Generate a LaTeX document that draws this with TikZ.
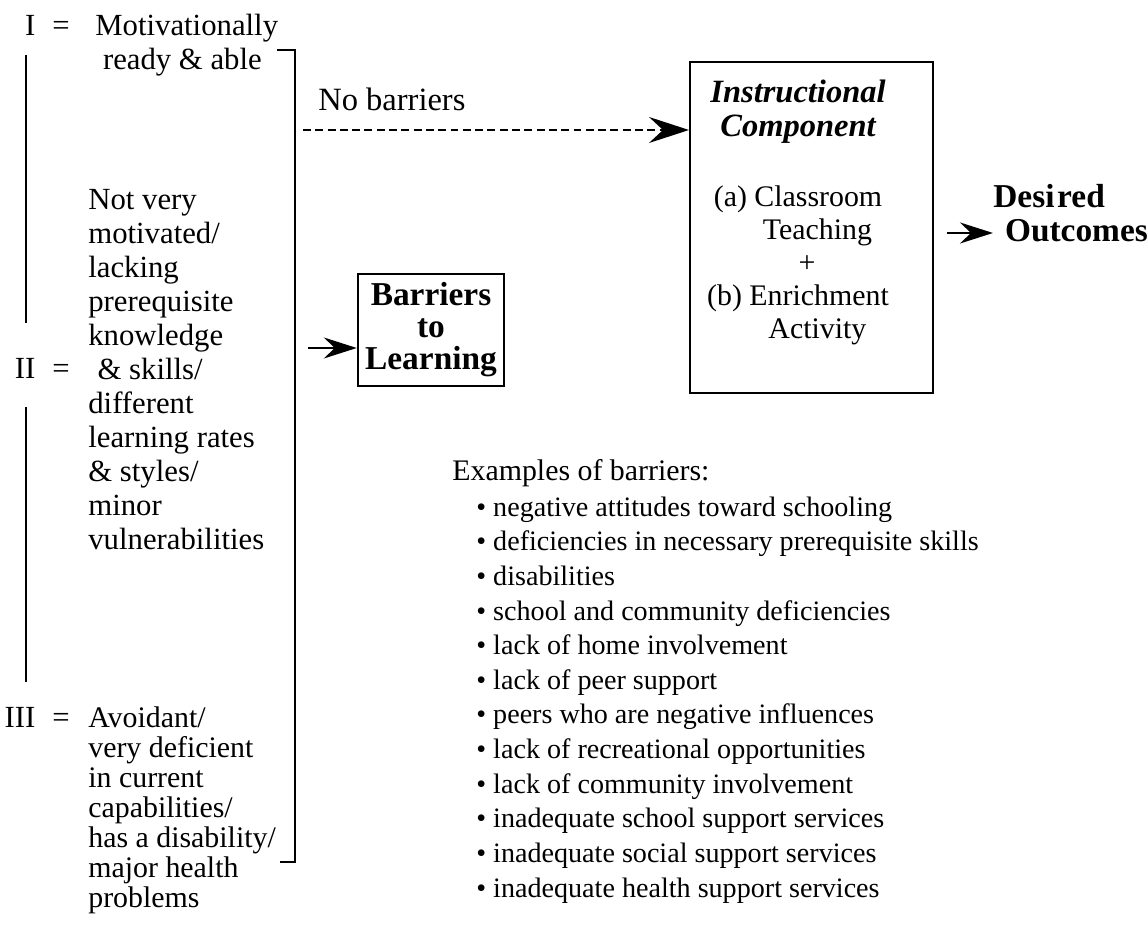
\documentclass[tikz,border=0pt]{standalone}
\usepackage{fontspec}
\setmainfont{Liberation Serif}
\usetikzlibrary{arrows.meta,positioning}

\begin{document}
\begin{tikzpicture}[x=0.02cm, y=-0.02cm,
    lbl/.style={inner sep=0, font=\fontsize{17.5}{19.4}\selectfont},
    coltxt/.style={inner sep=0, align=left, font=\fontsize{17.5}{19.4}\selectfont},
    tighttxt/.style={coltxt, font=\fontsize{17}{17.1}\selectfont},
    boxtxt/.style={inner sep=0, align=center, font=\fontsize{17}{18.9}\selectfont},
    boldtxt/.style={inner sep=0, align=left, font=\fontsize{19}{19.9}\selectfont\bfseries},
    listtxt/.style={inner sep=0, align=left, font=\fontsize{16}{19.7}\selectfont},
    frame/.style={draw, line width=1.4pt},
    arr/.style={-{Stealth[length=0.8cm, width=0.52cm, inset=0.28cm]}, line width=1.1pt},
    arrsmall/.style={-{Stealth[length=0.66cm, width=0.42cm, inset=0.22cm]}, line width=1.1pt}]
    \useasboundingbox (0,0) rectangle (1147,935);
    \def\brx{295}
    % (multi-line nodes sit on their last line)

    % student groups on the left
    \node[lbl, anchor=base east] (oneLbl) at (70,36) {I\hspace{0.55em}=};
    \node[coltxt, anchor=base west] (oneTxt) at (95,70) {Motivationally\\\hspace{0.25em}ready \& able};
    \node[lbl, anchor=base east] (twoLbl) at (70,379) {II\hspace{0.55em}=};
    \node[coltxt, anchor=base west] (twoTxt) at (88,550) {Not very\\motivated/\\lacking\\prerequisite\\knowledge\\\hspace{0.3em}\& skills/\\different\\learning rates\\\& styles/\\minor\\vulnerabilities};
    \node[lbl, anchor=base east] (threeLbl) at (70,728) {III\hspace{0.55em}=};
    \node[tighttxt, anchor=base west] (threeTxt) at (88,908) {Avoidant/\\very deficient\\in current\\capabilities/\\has a disability/\\major health\\problems};

    \draw[line width=1.2pt] (26,55) -- (26,323);
    \draw[line width=1.2pt] (26,407) -- (26,682);
    \draw[line width=1.4pt] (277,50) -- (\brx,50) -- (\brx,862) -- (280,862);

    % the two boxes
    \node[frame, anchor=north west, minimum width=4.86cm, minimum height=6.62cm] (instr) at (689,61) {};
    \node[boxtxt, anchor=base, font=\fontsize{18.5}{19.9}\selectfont\bfseries\itshape] (instrTitle) at (798,137) {Instructional\\Component};
    \node[boxtxt, anchor=base] (instrBody) at (798,339) {(a) Classroom\\\hspace{1.3em}Teaching\\\hspace{0.6em}+\\(b) Enrichment\\\hspace{1.3em}Activity};

    \node[frame, boldtxt, align=center, font=\fontsize{19}{18.2}\selectfont\bfseries,
          minimum width=2.92cm, minimum height=2.24cm] (barr) at (431,330) {Barriers\\to\\Learning};

    % arrows
    \coordinate (dashStart) at (303,130);
    \draw[arr, dash pattern=on 4.5pt off 2.5pt] (dashStart) -- (dashStart -| instr.west);
    \node[lbl, anchor=base west, font=\fontsize{18.5}{19.9}\selectfont] (noBar) at (318,111) {No barriers};

    \coordinate (barrStart) at (308,348);
    \draw[arrsmall] (barrStart) -- (barrStart -| barr.west);

    \node[boldtxt, anchor=base west] (outc) at (993,242) {Desi\hspace{0.08em}red\\\hspace{0.35em}Outcomes};
    \coordinate (outStart) at (947,233);
    \draw[arrsmall] (outStart) -- (outStart -| outc.west);

    % list of barriers
    \node[coltxt, anchor=base west, font=\fontsize{17}{19.4}\selectfont] (exHead) at (452,481) {Examples of barriers:};
    \node[listtxt, anchor=base west] (exList) at (476,897) {\textbullet\ negative attitudes toward schooling\\
        \textbullet\ deficiencies in necessary prerequisite skills\\
        \textbullet\ disabilities\\
        \textbullet\ school and community deficiencies\\
        \textbullet\ lack of home involvement\\
        \textbullet\ lack of peer support\\
        \textbullet\ peers who are negative influences\\
        \textbullet\ lack of recreational opportunities\\
        \textbullet\ lack of community involvement\\
        \textbullet\ inadequate school support services\\
        \textbullet\ inadequate social support services\\
        \textbullet\ inadequate health support services};
\end{tikzpicture}
\end{document}
